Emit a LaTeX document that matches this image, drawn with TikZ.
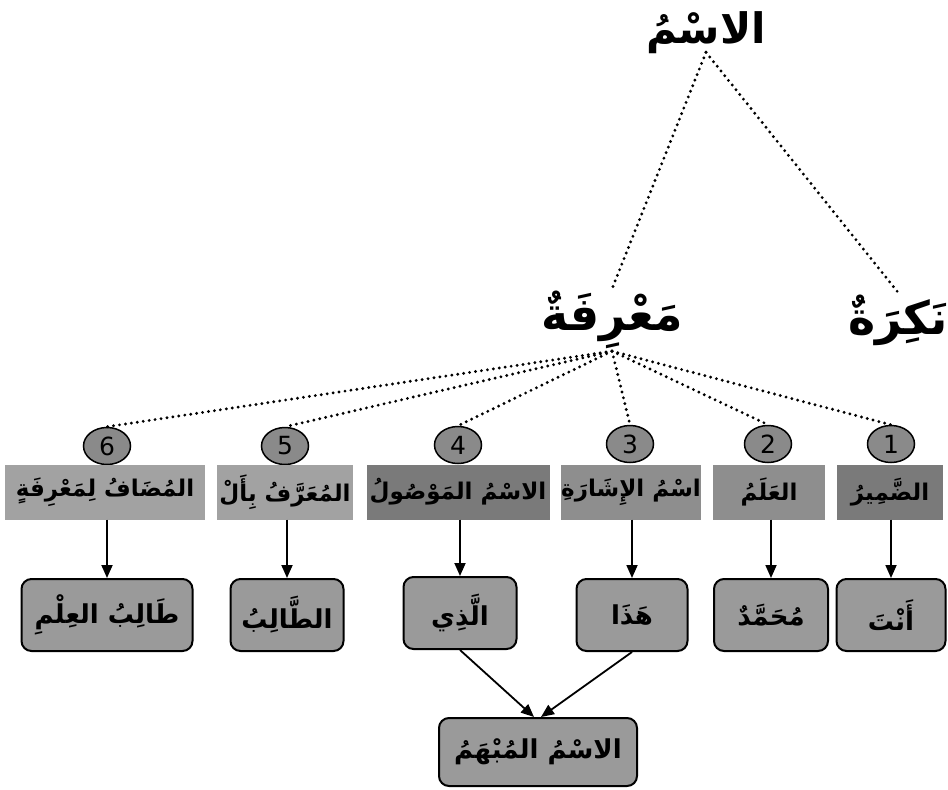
\documentclass[tikz,border=0pt]{standalone}
\usepackage{fontspec}
\setmainfont{DejaVu Sans}
\newfontfamily\arabicfont[Script=Arabic]{DejaVu Sans}
\TeXXeTstate=1
\usetikzlibrary{arrows.meta,shapes.geometric}
\newcommand{\artxt}[1]{{\arabicfont\bfseries\beginR #1\endR}}
\definecolor{catgray}{HTML}{8E8E8E}
\definecolor{catdark}{HTML}{7A7A7A}
\definecolor{catlight}{HTML}{A2A2A2}
\definecolor{exgray}{HTML}{9A9A9A}
\definecolor{numgray}{HTML}{8A8A8A}
\begin{document}
\begin{tikzpicture}[x=1pt,y=-1pt,
  head/.style={font=\fontsize{46}{54}\selectfont, inner sep=2pt},
  cat/.style={rectangle, fill=catgray, minimum height=55pt, inner sep=0pt,
              font=\fontsize{23}{28}\selectfont},
  ex/.style={rectangle, rounded corners=10pt, draw=black, line width=2pt,
             fill=exgray, minimum height=72pt, inner sep=0pt,
             font=\fontsize{26}{30}\selectfont},
  num/.style={ellipse, draw=black, line width=1.5pt, fill=numgray,
              minimum width=47pt, minimum height=37pt, inner sep=0pt,
              font=\fontsize{25}{28}\selectfont},
  dots/.style={line width=3.2pt, dash pattern=on 0pt off 6pt, line cap=round},
  arr/.style={line width=1.8pt, -{Triangle[length=13pt,width=11pt]}}
]
\useasboundingbox (0,0) rectangle (948,790);

% top level
\node[head, font=\fontsize{42}{50}\selectfont] (ism) at (706,33) {\artxt{الاسْمُ}};
\node[head] (marifa) at (612,320) {\artxt{مَعْرِفَةٌ}};
\node[head] (nakira) at (898,320) {\artxt{نَكِرَةٌ}};

\draw[dots] ([yshift=4pt]ism.south) -- (marifa.north);
\draw[dots] ([yshift=4pt]ism.south) -- (nakira.north);

% numbered categories
\node[num] (n6) at (107,446) {6};
\node[num] (n5) at (285,446) {5};
\node[num] (n4) at (458,445) {4};
\node[num] (n3) at (630,444) {3};
\node[num] (n2) at (768,444) {2};
\node[num] (n1) at (891,444) {1};

\foreach \n in {n1,n2,n3,n4,n5,n6}
  \draw[dots] (marifa.south) -- (\n.north);

\node[cat, fill=catlight, minimum width=200pt] (c6) at (105,492) {\artxt{المُضَافُ لِمَعْرِفَةٍ}};
\node[cat, fill=catlight, minimum width=136pt] (c5) at (285,492) {\artxt{المُعَرَّفُ بِأَلْ}};
\node[cat, fill=catdark, minimum width=183pt] (c4) at (458,492) {\artxt{الاسْمُ المَوْصُولُ}};
\node[cat, minimum width=138pt] (c3) at (631,492) {\artxt{اسْمُ الإِشَارَةِ}};
\node[cat, minimum width=112pt] (c2) at (769,492) {\artxt{العَلَمُ}};
\node[cat, fill=catdark, minimum width=106pt] (c1) at (890,492) {\artxt{الضَّمِيرُ}};

% examples
\node[ex, minimum width=171pt] (e6) at (107,615) {\artxt{طَالِبُ العِلْمِ}};
\node[ex, minimum width=113pt] (e5) at (287,615) {\artxt{الطَّالِبُ}};
\node[ex, minimum width=113pt] (e4) at (460,613) {\artxt{الَّذِي}};
\node[ex, minimum width=111pt] (e3) at (632,615) {\artxt{هَذَا}};
\node[ex, minimum width=114pt] (e2) at (771,615) {\artxt{مُحَمَّدٌ}};
\node[ex, minimum width=109pt] (e1) at (891,615) {\artxt{أَنْتَ}};

\foreach \i in {1,...,6}
  \draw[arr] (e\i.north |- c\i.south) -- (e\i.north);

\node[ex, minimum width=198pt, minimum height=68pt] (mubham) at (538,752) {\artxt{الاسْمُ المُبْهَمُ}};

\draw[arr] (e4.south) -- ([xshift=-4pt]mubham.north);
\draw[arr] (e3.south) -- ([xshift=3pt]mubham.north);
\end{tikzpicture}
\end{document}
